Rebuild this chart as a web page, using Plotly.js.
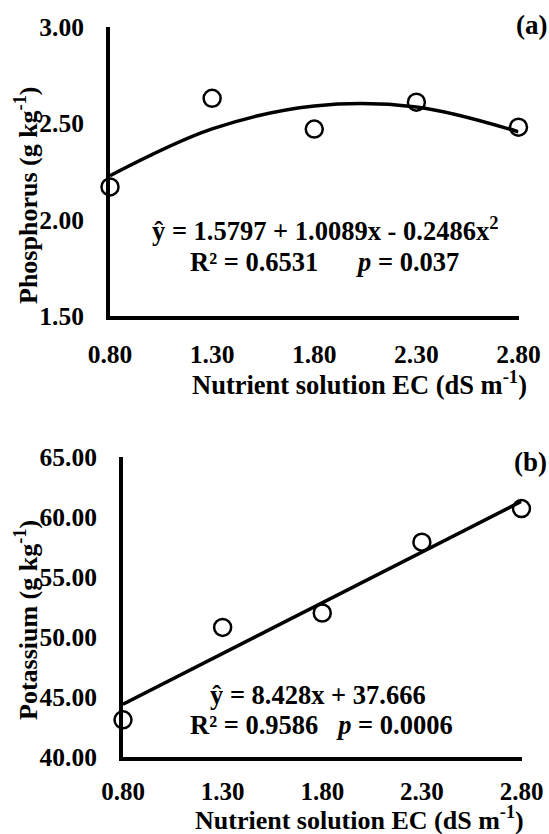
<!DOCTYPE html>
<html>
<head>
<meta charset="utf-8">
<script src="https://cdn.plot.ly/plotly-3.0.1.min.js"></script>
<style>html,body{margin:0;padding:0;background:#fff;}#chart{width:549px;height:834px;}</style>
</head>
<body>
<div id="chart"></div>
<script>
// Data
const ecLevels = [0.8, 1.3, 1.8, 2.3, 2.8];
const xTickLabels = ['0.80', '1.30', '1.80', '2.30', '2.80'];
const phosphorus = [2.17, 2.63, 2.47, 2.61, 2.48];
const phosphorusFit = [2.228, 2.471, 2.590, 2.585, 2.456];
const potassium = [43.1, 50.8, 52.0, 57.9, 60.7];
const potassiumFitX = [0.8, 2.8];
const potassiumFit = [44.4, 61.3];
const pTicks = [1.5, 2.0, 2.5, 3.0];
const pTickLabels = ['1.50', '2.00', '2.50', '3.00'];
const kTicks = [40, 45, 50, 55, 60, 65];
const kTickLabels = ['40.00', '45.00', '50.00', '55.00', '60.00', '65.00'];

const W = 549, H = 834;
const px = v => v / W;
const py = v => 1 - v / H;
const FONT = 'Liberation Serif, Times New Roman, serif';
const f = (s, extra) => Object.assign({family: FONT, size: s, color: '#000', weight: 'bold'}, extra || {});

const mk = {symbol: 'circle-open', size: 17, color: '#000', line: {width: 2.5, color: '#000'}};
const traces = [
  {x: ecLevels, y: phosphorusFit, mode: 'lines', line: {color: '#000', width: 3.5, shape: 'spline', smoothing: 1}, xaxis: 'x', yaxis: 'y', cliponaxis: false, hoverinfo: 'skip'},
  {x: ecLevels, y: phosphorus, mode: 'markers', marker: mk, xaxis: 'x', yaxis: 'y', cliponaxis: false},
  {x: potassiumFitX, y: potassiumFit, mode: 'lines', line: {color: '#000', width: 3.5}, xaxis: 'x2', yaxis: 'y2', cliponaxis: false, hoverinfo: 'skip'},
  {x: ecLevels, y: potassium, mode: 'markers', marker: mk, xaxis: 'x2', yaxis: 'y2', cliponaxis: false}
];

const xCommon = {range: [0.8, 2.8], tickvals: ecLevels, ticktext: xTickLabels, showgrid: false, zeroline: false, showline: true, linewidth: 4, linecolor: '#000', ticks: '', tickfont: f(25.5), ticklabelstandoff: 12, fixedrange: true};
const yCommon = {showgrid: false, zeroline: false, showline: true, linewidth: 4, linecolor: '#000', ticks: '', tickfont: f(25.5), ticklabelstandoff: 17, fixedrange: true};

const layout = {
  width: W, height: H,
  margin: {l: 0, r: 0, t: 0, b: 0},
  paper_bgcolor: '#fff', plot_bgcolor: '#fff',
  showlegend: false,
  xaxis: Object.assign({}, xCommon, {domain: [px(110), px(518.5)], anchor: 'y'}),
  yaxis: Object.assign({}, yCommon, {domain: [py(316), py(27)], range: [1.5, 3.0], tickvals: pTicks, ticktext: pTickLabels, anchor: 'x'}),
  xaxis2: Object.assign({}, xCommon, {domain: [px(123), px(521.5)], anchor: 'y2', ticklabelstandoff: 9, tickfont: f(25)}),
  yaxis2: Object.assign({}, yCommon, {domain: [py(757), py(457)], range: [40, 65], tickvals: kTicks, ticktext: kTickLabels, anchor: 'x2'}),
  annotations: [
    {text: '(a)', x: px(549), y: py(25), xref: 'paper', yref: 'paper', showarrow: false, font: f(27), xanchor: 'right', yanchor: 'middle'},
    {text: '(b)', x: px(549), y: py(462), xref: 'paper', yref: 'paper', showarrow: false, font: f(27), xanchor: 'right', yanchor: 'middle'},
    {text: 'Nutrient solution EC (dS m<sup>-1</sup>)', x: px(359), y: py(383), xref: 'paper', yref: 'paper', showarrow: false, font: f(26.5), xanchor: 'center', yanchor: 'middle'},
    {text: 'Nutrient solution EC (dS m<sup>-1</sup>)', x: px(359), y: py(818), xref: 'paper', yref: 'paper', showarrow: false, font: f(26), xanchor: 'center', yanchor: 'middle'},
    {text: 'Phosphorus (g kg<sup>-1</sup>)', x: px(27), y: py(196), xref: 'paper', yref: 'paper', showarrow: false, font: f(26), textangle: -90, xanchor: 'center', yanchor: 'middle'},
    {text: 'Potassium (g kg<sup>-1</sup>)', x: px(26), y: py(620), xref: 'paper', yref: 'paper', showarrow: false, font: f(26), textangle: -90, xanchor: 'center', yanchor: 'middle'},
    {text: 'ŷ = 1.5797 + 1.0089x - 0.2486x<sup>2</sup>', x: px(325), y: py(229), xref: 'paper', yref: 'paper', showarrow: false, font: f(26.5), xanchor: 'center', yanchor: 'middle'},
    {text: 'R² = 0.6531\u00A0\u00A0\u00A0\u00A0\u00A0\u00A0<i>p</i> = 0.037', x: px(324), y: py(262), xref: 'paper', yref: 'paper', showarrow: false, font: f(26.5), xanchor: 'center', yanchor: 'middle'},
    {text: 'ŷ = 8.428x + 37.666', x: px(318), y: py(695), xref: 'paper', yref: 'paper', showarrow: false, font: f(26.5), xanchor: 'center', yanchor: 'middle'},
    {text: 'R² = 0.9586\u00A0\u00A0\u00A0<i>p</i> = 0.0006', x: px(321), y: py(725), xref: 'paper', yref: 'paper', showarrow: false, font: f(26.5), xanchor: 'center', yanchor: 'middle'}
  ]
};

Plotly.newPlot('chart', traces, layout, {displayModeBar: false, staticPlot: true});
</script>
</body>
</html>
